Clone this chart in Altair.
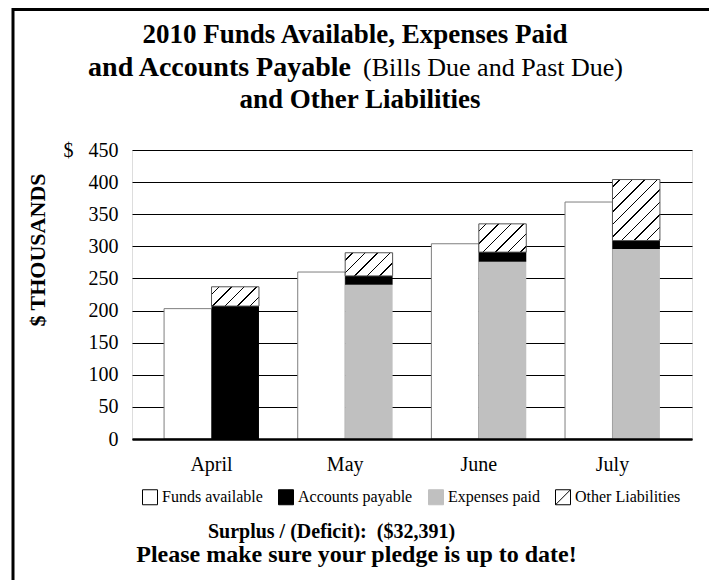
import altair as alt
import pandas as pd

# ---------------- data ($ thousands) ----------------
MONTHS = ["April", "May", "June", "July"]
FUNDS_AVAILABLE = [203, 260, 304, 369]
EXPENSES_PAID = [0, 240, 276, 296]
ACCOUNTS_PAYABLE = [207, 14, 15, 13]
OTHER_LIABILITIES = [30, 36, 44, 95]
SERIES = ["Funds available", "Accounts payable", "Expenses paid", "Other Liabilities"]
Y_TICKS = [0, 50, 100, 150, 200, 250, 300, 350, 400, 450]

TITLE_1 = "2010 Funds Available, Expenses Paid"
TITLE_2_BOLD = "and Accounts Payable"
TITLE_2_NOTE = "(Bills Due and Past Due)"
TITLE_3 = "and Other Liabilities"
Y_TITLE = "$ THOUSANDS"
SURPLUS = "Surplus / (Deficit):\u00a0 ($32,391)"
PLEDGE = "Please make sure your pledge is up to date!"

# ---------------- styling ----------------
SERIF = "Liberation Serif"
PLOT_W, PLOT_H = 560, 289
PAD_INNER, PAD_OUTER = 0.29, 0.24
GRAY = "#c0c0c0"
OUTLINE = "#7f7f7f"
HATCH_SPACING = 12.5   # px between hatch lines (horizontal)
HATCH_LINE = 1.6       # px thickness measured along x+y

rows = []
for i, m in enumerate(MONTHS):
    rows.append(dict(month=m, col="funds", series="Funds available", lo=0, hi=FUNDS_AVAILABLE[i]))
    lo = 0
    for name, vals in [("Expenses paid", EXPENSES_PAID),
                       ("Accounts payable", ACCOUNTS_PAYABLE),
                       ("Other Liabilities", OTHER_LIABILITIES)]:
        v = vals[i]
        rows.append(dict(month=m, col="owed", series=name, lo=lo, hi=lo + v))
        lo += v
df = pd.DataFrame(rows)

# bar pixel width as the band scales will give it (for the hatch pattern)
step = PLOT_W / (len(MONTHS) - PAD_INNER + 2 * PAD_OUTER)
bar_w = step * (1 - PAD_INNER) / 2


def hatch(value):
    w = bar_w
    h = value * PLOT_H / 450.0
    s = w + h
    k = s / (w * w + h * h)
    period = HATCH_SPACING / s
    half = HATCH_LINE / 2 / s
    stops = [{"offset": 0, "color": "white"}]
    c = period * 0.6
    while c + half < 1:
        stops += [{"offset": round(c - half, 5), "color": "white"},
                  {"offset": round(c - half, 5), "color": "black"},
                  {"offset": round(c + half, 5), "color": "black"},
                  {"offset": round(c + half, 5), "color": "white"}]
        c += period
    stops.append({"offset": 1, "color": "white"})
    return {"gradient": "linear", "x1": 0, "y1": 0,
            "x2": round(k * w, 5), "y2": round(k * h, 5), "stops": stops}


x_scale = alt.Scale(domain=MONTHS, paddingInner=PAD_INNER, paddingOuter=PAD_OUTER)
y_scale = alt.Scale(domain=[0, 450], nice=False)
off_scale = alt.Scale(domain=["funds", "owed"])

x_axis = alt.Axis(title=None, labelFont=SERIF, labelFontSize=20, labelColor="black",
                  labelPadding=31, labelBaseline="alphabetic", labelAngle=0,
                  ticks=False, tickSize=0, domainColor="black", domainWidth=2.5,
                  grid=False, zindex=1)
y_axis = alt.Axis(title=None, values=Y_TICKS,
                  labelExpr="datum.value == 450 ? '$\u2002 450' : datum.label",
                  labelFont=SERIF, labelFontSize=20, labelColor="black", labelPadding=14,
                  ticks=False, tickSize=0, domain=False, grid=True, gridColor="black",
                  gridWidth=1, gridOpacity=1, zindex=0)

base = alt.Chart(df)
ENC = dict(
    x=alt.X("month:N", scale=x_scale, axis=x_axis),
    xOffset=alt.XOffset("col:N", scale=off_scale),
    y=alt.Y("hi:Q", scale=y_scale, axis=y_axis),
    y2=alt.Y2("lo:Q"),
)


def bars(series, **mark):
    return base.transform_filter(alt.datum.series == series).mark_bar(**mark).encode(**ENC)


layers = [
    bars("Funds available", fill="white", stroke=OUTLINE, strokeWidth=1),
    bars("Expenses paid", fill=GRAY),
    bars("Accounts payable", fill="black"),
]
for i, m in enumerate(MONTHS):
    layers.append(
        base.transform_filter((alt.datum.series == "Other Liabilities") & (alt.datum.month == m))
        .mark_bar(fill=hatch(OTHER_LIABILITIES[i]), stroke="#555555", strokeWidth=1)
        .encode(**ENC)
    )

# legend, drawn by Vega-Lite from an (empty) point layer
LEG_FILL = ["white", "black", GRAY, "white"]
LEG_STROKE = ["black", "black", GRAY, "black"]
LEG_SHAPE = ["square", "square", "square", "M-1,-1H1V1H-1Z M-1,1L1,-1"]
legend = alt.Legend(title=None, orient="none", legendX=10, legendY=339, direction="horizontal",
                    symbolSize=225, symbolStrokeWidth=1, labelFont=SERIF, labelFontSize=16,
                    labelColor="black", labelOffset=4, columnPadding=13, padding=0)
legend_layer = (
    alt.Chart(pd.DataFrame({"series": SERIES}))
    .transform_filter("false")
    .mark_point(filled=True, opacity=1)
    .encode(
        fill=alt.Fill("series:N", scale=alt.Scale(domain=SERIES, range=LEG_FILL), legend=legend),
        stroke=alt.Stroke("series:N", scale=alt.Scale(domain=SERIES, range=LEG_STROKE), legend=legend),
        shape=alt.Shape("series:N", scale=alt.Scale(domain=SERIES, range=LEG_SHAPE), legend=legend),
    )
)
layers.append(legend_layer)


def text(t, x, y, size, weight="normal", align="center", angle=0, baseline="alphabetic"):
    return alt.Chart(pd.DataFrame({"t": [t]})).mark_text(
        font=SERIF, fontSize=size, fontWeight=weight, align=align, baseline=baseline,
        angle=angle, color="black"
    ).encode(text="t:N", x=alt.value(x), y=alt.value(y))


layers += [
    text(TITLE_1, 223, -106.7, 27, "bold"),
    text(TITLE_2_BOLD, 219, -74, 28, "bold", align="right"),
    text(TITLE_2_NOTE, 231, -74, 26, "normal", align="left"),
    text(TITLE_3, 228, -42.3, 27, "bold"),
    text(Y_TITLE, -94.5, 100, 22, "bold", angle=270, baseline="middle"),
    text(SURPLUS, 199.5, 388, 20, "bold"),
    text(PLEDGE, 224.5, 412, 24, "bold"),
]

# outer frame around the whole figure
frame = alt.Chart(pd.DataFrame({"k": [0]})).mark_rect(
    filled=False, stroke="black", strokeWidth=3
).encode(x=alt.value(-119), x2=alt.value(582), y=alt.value(-140.5), y2=alt.value(460))
layers.append(frame)

chart = alt.layer(*layers).properties(
    width=PLOT_W, height=PLOT_H,
    autosize=alt.AutoSizeParams(type="none"),
    padding={"left": 124, "top": 142, "right": 17, "bottom": 150},
).configure_view(stroke="transparent", strokeWidth=0).configure(background="white")

chart.save("out.html", embed_options={"renderer": "svg", "actions": False})
